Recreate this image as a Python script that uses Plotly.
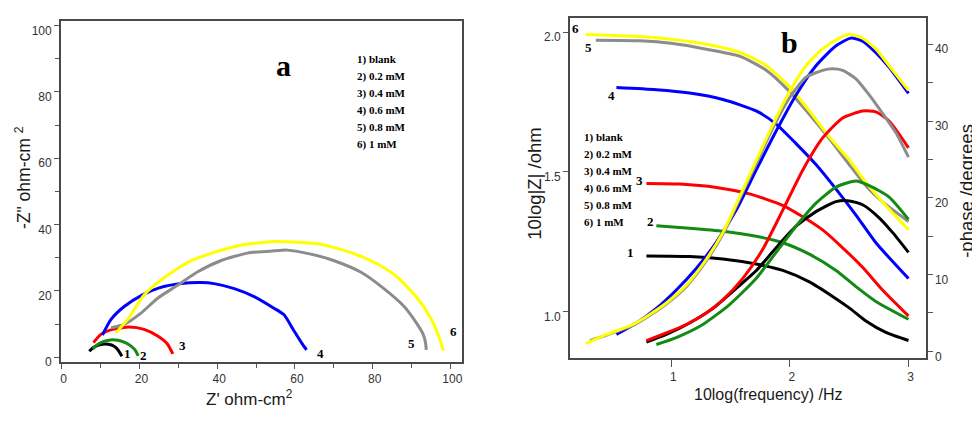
import plotly.graph_objects as go

# ---------------- data ----------------
series_labels = ["1) blank", "2) 0.2 mM", "3) 0.4 mM", "4) 0.6 mM", "5) 0.8 mM", "6) 1 mM"]
series_tags = ["1", "2", "3", "4", "5", "6"]
series_colors = ["#000000", "#138a13", "#ff0000", "#0000ff", "#8c8c8c", "#ffff00"]

# Nyquist: Z' (ohm cm2) and -Z'' (ohm cm2)
nyq_blank_re = [7.1, 8.0, 9.0, 10.5, 12.0, 13.5, 14.5, 15.5]
nyq_blank_im = [1.8, 2.8, 3.4, 3.9, 3.9, 3.3, 2.2, 0.3]
nyq_02_re = [8.0, 9.0, 10.5, 12.5, 14.5, 16.5, 18.0, 19.0, 19.7]
nyq_02_im = [2.5, 3.6, 4.6, 5.2, 5.1, 4.3, 3.2, 2.0, 0.4]
nyq_04_re = [8.2, 10.1, 13.1, 17.4, 21.2, 24.7, 27.2, 28.6]
nyq_04_im = [4.4, 6.9, 8.4, 9.1, 8.4, 6.4, 4.0, 1.0]
nyq_06_re = [10.5, 12.7, 16.1, 20.8, 25.1, 30.7, 35.8, 39.2, 44.4, 49.5, 54.6, 57.2, 59.8, 61.9, 63.0]
nyq_06_im = [6.7, 11.4, 15.3, 18.8, 20.9, 22.2, 22.5, 22.2, 20.7, 18.3, 14.8, 12.8, 7.9, 4.0, 2.2]
nyq_08_re = [12.7, 16.1, 20.4, 24.7, 29.8, 34.9, 40.9, 47.8, 54.6, 58.1, 64.1, 70.1, 76.9, 82.9, 88.1, 91.5, 93.0, 93.6, 93.8]
nyq_08_im = [8.9, 9.9, 13.3, 17.8, 21.7, 25.7, 29.1, 31.4, 32.1, 32.3, 31.1, 29.1, 25.7, 20.7, 15.3, 9.9, 6.9, 4.4, 2.2]
nyq_1_re = [14.0, 17.0, 21.2, 25.5, 32.4, 39.2, 46.1, 54.6, 61.5, 66.6, 74.3, 81.2, 86.3, 91.5, 94.9, 97.0, 98.2]
nyq_1_im = [7.4, 11.4, 18.8, 23.2, 28.6, 31.6, 33.8, 34.9, 34.6, 34.1, 31.6, 28.1, 24.2, 17.8, 11.9, 6.4, 2.0]

# Bode modulus: log frequency and log|Z|
mod_blank_f = [0.79, 1.154, 1.435, 1.715, 1.94, 2.164, 2.36, 2.50, 2.641, 2.809, 3.0]
mod_blank_z = [1.199, 1.197, 1.188, 1.170, 1.147, 1.106, 1.054, 1.013, 0.966, 0.925, 0.896]
mod_02_f = [0.874, 1.154, 1.435, 1.715, 1.94, 2.164, 2.389, 2.557, 2.725, 3.0]
mod_02_z = [1.307, 1.298, 1.287, 1.269, 1.246, 1.205, 1.147, 1.089, 1.036, 0.972]
mod_04_f = [0.79, 1.07, 1.379, 1.659, 1.94, 2.108, 2.276, 2.445, 2.613, 2.781, 3.0]
mod_04_z = [1.458, 1.456, 1.444, 1.421, 1.380, 1.339, 1.292, 1.228, 1.158, 1.077, 0.984]
mod_06_f = [0.537, 0.874, 1.154, 1.435, 1.715, 1.884, 2.052, 2.22, 2.389, 2.557, 2.725, 3.0]
mod_06_z = [1.802, 1.794, 1.782, 1.759, 1.718, 1.671, 1.601, 1.526, 1.438, 1.345, 1.246, 1.118]
mod_08_f = [0.363, 0.734, 1.014, 1.295, 1.575, 1.80, 1.996, 2.164, 2.332, 2.50, 2.641, 2.781, 3.0]
mod_08_z = [1.971, 1.969, 1.959, 1.939, 1.914, 1.864, 1.788, 1.706, 1.619, 1.526, 1.450, 1.392, 1.322]
mod_1_f = [0.279, 0.649, 1.014, 1.295, 1.575, 1.80, 1.996, 2.164, 2.332, 2.50, 2.641, 2.781, 3.0]
mod_1_z = [1.992, 1.986, 1.974, 1.957, 1.928, 1.881, 1.805, 1.718, 1.625, 1.543, 1.462, 1.392, 1.293]

# Bode phase: log frequency and -phase (degrees)
ph_blank_f = [0.79, 0.958, 1.154, 1.351, 1.547, 1.715, 1.884, 2.052, 2.22, 2.389, 2.50, 2.613, 2.753, 2.865, 3.0]
ph_blank_p = [1.2, 2.2, 3.7, 5.6, 8.2, 10.5, 13.5, 16.3, 18.2, 19.5, 19.6, 19.1, 17.4, 15.5, 12.9]
ph_02_f = [0.874, 1.042, 1.266, 1.491, 1.715, 1.884, 2.052, 2.22, 2.389, 2.557, 2.669, 2.837, 3.0]
ph_02_p = [0.9, 1.8, 3.5, 6.1, 9.5, 12.9, 16.3, 19.3, 21.4, 22.2, 21.6, 20.1, 17.2]
ph_04_f = [0.79, 0.958, 1.126, 1.295, 1.435, 1.603, 1.771, 1.94, 2.108, 2.276, 2.445, 2.613, 2.725, 2.837, 3.0]
ph_04_p = [1.4, 2.4, 3.5, 5.0, 6.7, 9.5, 13.3, 18.4, 23.6, 27.8, 30.4, 31.3, 31.2, 30.0, 26.5]
ph_06_f = [0.537, 0.705, 0.874, 1.042, 1.21, 1.379, 1.547, 1.715, 1.884, 2.052, 2.22, 2.389, 2.515, 2.613, 2.725, 2.837, 3.0]
ph_06_p = [2.2, 3.7, 5.6, 8.0, 10.8, 14.2, 18.4, 23.6, 28.7, 33.4, 37.2, 39.8, 40.8, 40.4, 38.9, 37.0, 33.6]
ph_08_f = [0.313, 0.45, 0.68, 0.82, 0.96, 1.13, 1.30, 1.44, 1.58, 1.72, 1.86, 1.996, 2.136, 2.276, 2.36, 2.445, 2.557, 2.669, 2.781, 2.893, 3.0]
ph_08_p = [1.4, 2.1, 3.4, 4.7, 6.2, 8.5, 11.9, 15.4, 20.0, 24.6, 29.2, 33.0, 35.7, 36.6, 36.8, 36.6, 35.5, 33.4, 31.0, 28.5, 25.3]
ph_1_f = [0.279, 0.453, 0.677, 0.818, 0.958, 1.126, 1.295, 1.435, 1.575, 1.715, 1.856, 1.996, 2.136, 2.276, 2.417, 2.50, 2.613, 2.725, 2.837, 3.0]
ph_1_p = [1.0, 2.2, 3.5, 4.8, 6.3, 8.6, 12.0, 15.5, 20.1, 24.8, 29.5, 33.8, 37.2, 39.4, 40.8, 41.3, 40.8, 39.4, 37.2, 34.0]

# axis ticks
nyq_ticks = [0, 20, 40, 60, 80, 100]
bode_f_ticks = [1, 2, 3]
bode_z_ticks = [1.0, 1.5, 2.0]
bode_z_ticktext = ["1.0", "1.5", "2.0"]
bode_p_ticks = [0, 10, 20, 30, 40]

# curve tag positions (data units)
nyq_tag_x = [17.0, 21.1, 31.2, 66.5, 90.0, 100.9]
nyq_tag_y = [1.0, 0.5, 3.6, 1.2, 4.2, 7.9]
bode_tag_x = [0.658, 0.823, 0.73, 0.495, 0.299, 0.195]
bode_tag_y = [1.211, 1.322, 1.470, 1.774, 1.945, 2.012]

nyquist = [(nyq_blank_re, nyq_blank_im), (nyq_02_re, nyq_02_im), (nyq_04_re, nyq_04_im),
           (nyq_06_re, nyq_06_im), (nyq_08_re, nyq_08_im), (nyq_1_re, nyq_1_im)]
modulus = [(mod_blank_f, mod_blank_z), (mod_02_f, mod_02_z), (mod_04_f, mod_04_z),
           (mod_06_f, mod_06_z), (mod_08_f, mod_08_z), (mod_1_f, mod_1_z)]
phase = [(ph_blank_f, ph_blank_p), (ph_02_f, ph_02_p), (ph_04_f, ph_04_p),
         (ph_06_f, ph_06_p), (ph_08_f, ph_08_p), (ph_1_f, ph_1_p)]

# ---------------- figure ----------------
W, H = 972, 423


def fx(p):
    return p / W


def fy(p):
    return 1 - p / H


SANS = "Liberation Sans"
TICK_FONT = dict(family="Liberation Sans Narrow, Liberation Sans", size=12, color="#333333")
SERIF_B = dict(family="Liberation Serif", color="#000000", weight="bold")
LINE = dict(width=3, shape="spline", smoothing=0.6)

fig = go.Figure()

for (re, im), col in zip(nyquist, series_colors):
    fig.add_trace(go.Scatter(x=re, y=im, mode="lines", line=dict(color=col, **LINE),
                             xaxis="x", yaxis="y", showlegend=False, hoverinfo="skip"))
for (f, z), col in zip(modulus, series_colors):
    fig.add_trace(go.Scatter(x=f, y=z, mode="lines", line=dict(color=col, **LINE),
                             xaxis="x2", yaxis="y2", showlegend=False, hoverinfo="skip"))
for (f, p), col in zip(phase, series_colors):
    fig.add_trace(go.Scatter(x=f, y=p, mode="lines", line=dict(color=col, **LINE),
                             xaxis="x2", yaxis="y3", showlegend=False, hoverinfo="skip"))

frame = dict(showline=True, linecolor="#4a4a4a", linewidth=1.5, showgrid=False, zeroline=False,
             ticks="outside", tickcolor="#555555", tickwidth=1.3, tickfont=TICK_FONT)

fig.update_layout(
    width=W, height=H, autosize=False,
    margin=dict(l=0, r=0, t=0, b=0),
    paper_bgcolor="white", plot_bgcolor="white",
    font=dict(family=SANS, color="#1a1a1a"),
    xaxis=dict(domain=[fx(60), fx(462)], range=[-0.2, 103], anchor="y", mirror=True,
               tickvals=nyq_ticks, ticklen=5, ticklabelshift=2,
               minor=dict(dtick=10, tick0=0, ticks="outside", ticklen=4, tickcolor="#555555"),
               **frame),
    yaxis=dict(domain=[fy(368.3), fy(21)], range=[-1.5, 101.5], anchor="x", mirror=True,
               tickvals=nyq_ticks, ticklen=5, ticklabelshift=5,
               minor=dict(dtick=10, tick0=0, ticks="outside", ticklen=4, tickcolor="#555555"),
               **frame),
    xaxis2=dict(domain=[fx(570), fx(926.7)], range=[0.144, 3.146], anchor="y2", mirror=True,
                tickvals=bode_f_ticks, ticklen=7, ticklabelshift=2, **frame),
    yaxis2=dict(domain=[fy(364), fy(18.3)], range=[0.8335, 2.0507], anchor="x2", mirror=True,
                tickvals=bode_z_ticks, ticktext=bode_z_ticktext, ticklen=5, ticklabelshift=5,
                **frame),
    yaxis3=dict(overlaying="y2", side="right", anchor="x2", range=[-0.86, 43.42],
                tickvals=bode_p_ticks, ticklen=5, ticklabelshift=5,
                minor=dict(dtick=5, tick0=0, ticks="outside", ticklen=5, tickcolor="#555555"),
                **frame),
)

ann = []
# axis titles
ann.append(dict(text="Z' ohm-cm<sup>2</sup>", x=fx(249), y=fy(405), font=dict(family=SANS, size=17)))
ann.append(dict(text='-Z" ohm-cm <sup>2</sup>', x=fx(22), y=fy(180), textangle=-90,
                font=dict(family=SANS, size=17.5)))
ann.append(dict(text="10log(frequency) /Hz", x=fx(769), y=fy(401), font=dict(family=SANS, size=16)))
ann.append(dict(text="10log|Z| /ohm", x=fx(535), y=fy(187), textangle=-90,
                font=dict(family=SANS, size=18.5)))
ann.append(dict(text="-phase /degrees", x=fx(968), y=fy(194), textangle=-90,
                font=dict(family=SANS, size=18.5)))
# panel letters
ann.append(dict(text="a", x=fx(283), y=fy(67), font=dict(size=30, **SERIF_B)))
ann.append(dict(text="b", x=fx(790), y=fy(43), font=dict(size=30, **SERIF_B)))
# legend blocks
for i, lab in enumerate(series_labels):
    ann.append(dict(text=lab, x=fx(355), y=fy(60 + 17.3 * i), xanchor="left",
                    font=dict(size=11, **SERIF_B)))
    ann.append(dict(text=lab, x=fx(581.7), y=fy(140 + 17.3 * i), xanchor="left",
                    font=dict(size=11, **SERIF_B)))
for a in ann:
    a.setdefault("xref", "paper")
    a.setdefault("yref", "paper")
    a.setdefault("showarrow", False)
    a.setdefault("xanchor", "center")
    a.setdefault("yanchor", "middle")

# curve tags
for tag, x, y in zip(series_tags, nyq_tag_x, nyq_tag_y):
    ann.append(dict(text=tag, x=x, y=y, xref="x", yref="y", showarrow=False,
                    font=dict(size=13, **SERIF_B)))
for tag, x, y in zip(series_tags, bode_tag_x, bode_tag_y):
    ann.append(dict(text=tag, x=x, y=y, xref="x2", yref="y2", showarrow=False,
                    font=dict(size=13, **SERIF_B)))

fig.update_layout(annotations=ann)
fig.write_html("out.html")
